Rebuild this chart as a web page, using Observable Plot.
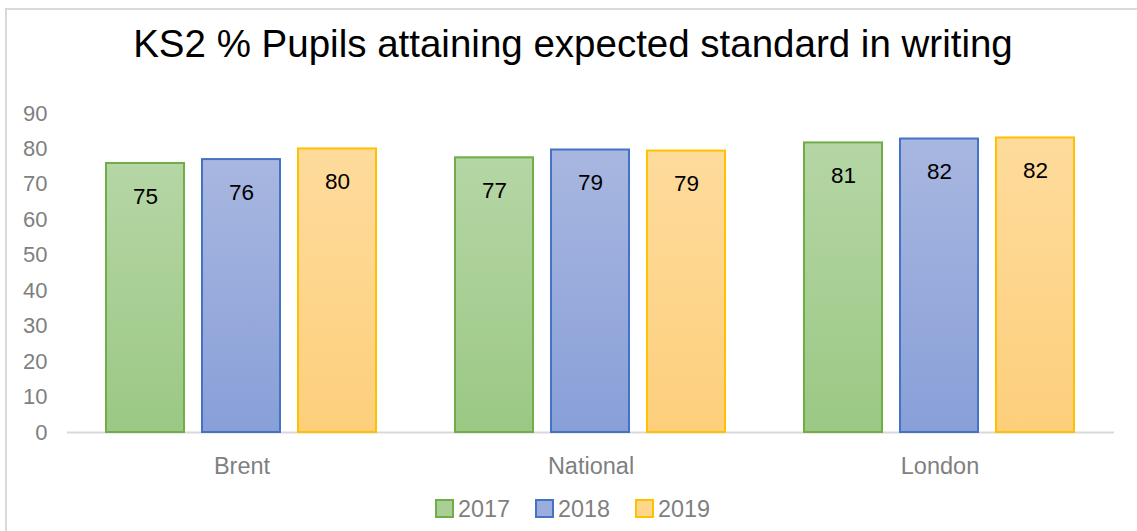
<!DOCTYPE html>
<html>
<head>
<meta charset="utf-8">
<script src="https://cdn.jsdelivr.net/npm/d3@7"></script>
<script src="https://cdn.jsdelivr.net/npm/@observablehq/plot@0.6"></script>
<style>
  html, body { margin: 0; padding: 0; background: #fff; width: 1137px; height: 531px; overflow: hidden; }
  body { position: relative; font-family: "Liberation Sans", Arial, sans-serif; }
  #frame { position: absolute; left: 5px; top: 8px; width: 1300px; height: 700px; border-top: 2px solid #d9d9d9; border-left: 2px solid #d9d9d9; }
  #title { position: absolute; left: 0; width: 1146px; top: 21px; text-align: center; font-size: 38.5px; color: #000; line-height: 45px; white-space: nowrap; }
  #chart { position: absolute; left: 0; top: 0; }
  .leg { position: absolute; top: 496px; height: 26px; font-size: 23.4px; color: #7f7f7f; line-height: 26px; }
  .leg .sw { position: absolute; left: 0; top: 3px; width: 15px; height: 15px; border: 2px solid; }
  .leg .tx { position: absolute; left: 23px; top: 0; white-space: nowrap; }
</style>
</head>
<body>
<div id="frame"></div>
<div id="chart"></div>
<div id="title">KS2 % Pupils attaining expected standard in writing</div>
<div id="legend"></div>
<script>
// ---- data ----
const categories = ["Brent", "National", "London"];
const years = ["2017", "2018", "2019"];
// bar heights
const values2017 = [75.9, 77.5, 81.7];
const values2018 = [77.0, 79.7, 82.8];
const values2019 = [80.0, 79.4, 83.1];
// data labels as printed on the bars
const labels2017 = ["75", "77", "81"];
const labels2018 = ["76", "79", "82"];
const labels2019 = ["80", "79", "82"];
const yTicks = [0, 10, 20, 30, 40, 50, 60, 70, 80, 90];

const seriesValues = {"2017": values2017, "2018": values2018, "2019": values2019};
const seriesLabels = {"2017": labels2017, "2018": labels2018, "2019": labels2019};

const strokes = {"2017": "#70ad47", "2018": "#4472c4", "2019": "#ffc000"};
const gradTop = {"2017": "#b5d6a5", "2018": "#a8b7e0", "2019": "#fedb9c"};
const gradBottom = {"2017": "#9bc884", "2018": "#889fd8", "2019": "#fdcf7c"};
const swatch = {"2017": "#a9cf95", "2018": "#9aaddc", "2019": "#fed68c"};

const table = [];
years.forEach(yr => categories.forEach((c, i) => {
  table.push({category: c, year: yr, value: seriesValues[yr][i], label: seriesLabels[yr][i]});
}));

const marks = [
  Plot.ruleY([0], {stroke: "#d9d9d9", strokeWidth: 2})
];
years.forEach(yr => {
  marks.push(Plot.barY(table.filter(d => d.year === yr), {
    fx: "category", x: "year", y: "value",
    fill: `url(#grad${yr})`, stroke: strokes[yr], strokeWidth: 2, inset: 0
  }));
});
marks.push(Plot.text(table, {
  fx: "category", x: "year", y: "value", text: "label",
  dy: 33, fill: "#000", fontSize: 22.5
}));
marks.push(Plot.axisY({ticks: yTicks, tickSize: 0, tickPadding: 20, fill: "#7f7f7f", fontSize: 22, label: null}));
marks.push(Plot.axisFx({anchor: "bottom", tickSize: 0, tickPadding: 25, fill: "#7f7f7f", fontSize: 23.5, label: null}));

const chart = Plot.plot({
  width: 1137,
  height: 531,
  marginTop: 113,
  marginBottom: 99,
  marginLeft: 66,
  marginRight: 22,
  style: {fontFamily: "'Liberation Sans', Arial, sans-serif", background: "transparent", overflow: "visible"},
  fx: {domain: categories, padding: 0, label: null},
  x: {domain: years, paddingInner: 0.186, paddingOuter: 0.392, axis: null},
  y: {domain: [0, 90], axis: null},
  marks
});

// gradient definitions for the bar fills
const svg = d3.select(chart.tagName.toLowerCase() === "svg" ? chart : chart.querySelector("svg"));
const defs = svg.insert("defs", ":first-child");
years.forEach(yr => {
  const g = defs.append("linearGradient").attr("id", `grad${yr}`).attr("x1", 0).attr("y1", 0).attr("x2", 0).attr("y2", 1);
  g.append("stop").attr("offset", "0%").attr("stop-color", gradTop[yr]);
  g.append("stop").attr("offset", "100%").attr("stop-color", gradBottom[yr]);
});
document.getElementById("chart").appendChild(chart);

// legend
const legendX = {"2017": 435, "2018": 535, "2019": 635};
const legend = document.getElementById("legend");
years.forEach(yr => {
  const item = document.createElement("div");
  item.className = "leg";
  item.style.left = legendX[yr] + "px";
  item.innerHTML = `<div class="sw" style="background:${swatch[yr]};border-color:${strokes[yr]}"></div><div class="tx">${yr}</div>`;
  legend.appendChild(item);
});
</script>
</body>
</html>
